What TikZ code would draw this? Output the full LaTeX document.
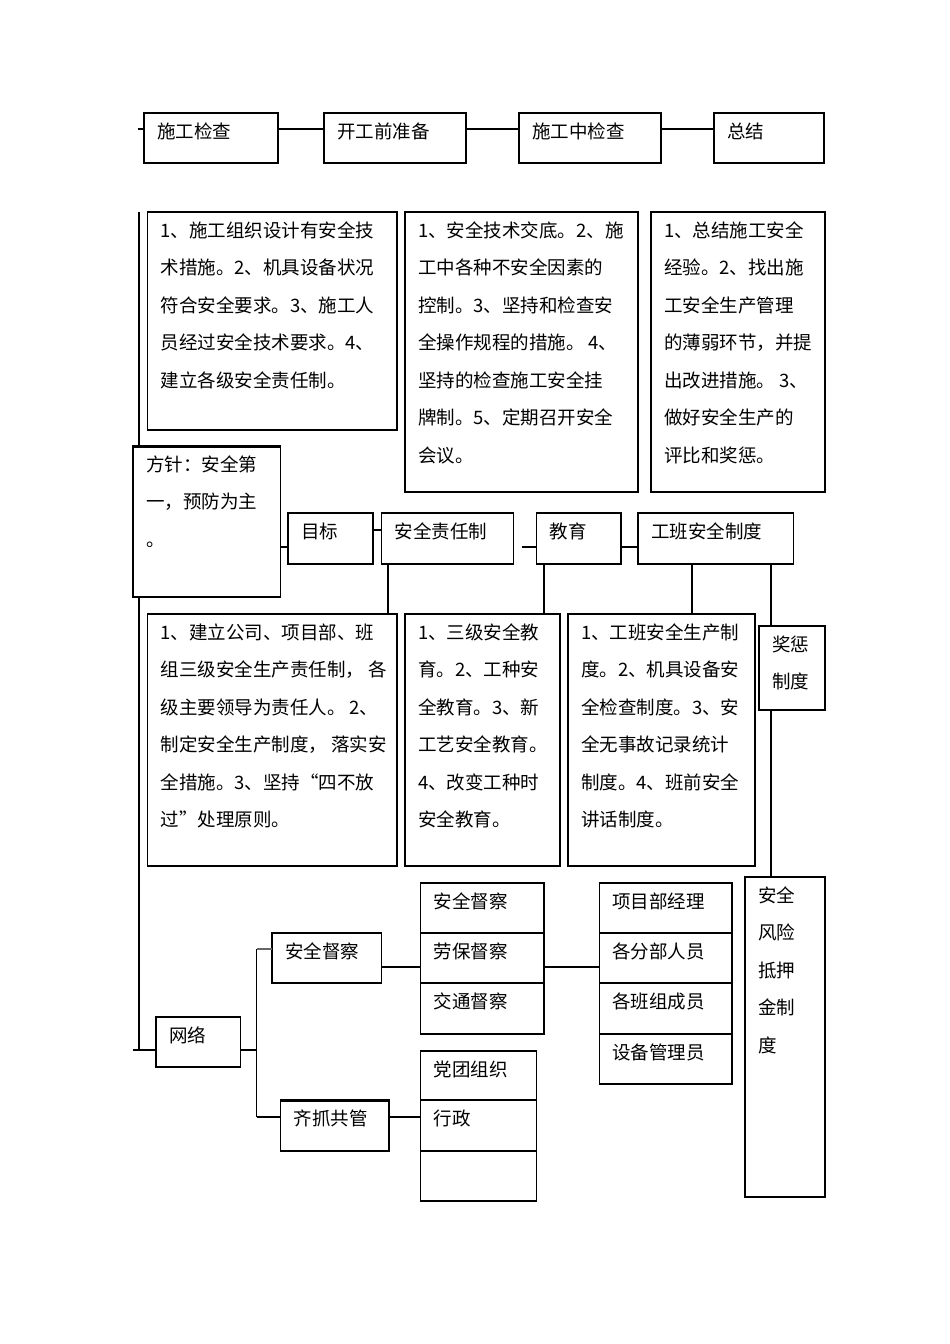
\documentclass[tikz,border=0pt]{standalone}
\usepackage{fontspec}
\newfontfamily\cjk{Noto Sans CJK SC}
\tikzset{
  bx/.style={draw, line width=1.5pt, fill=white, inner sep=0pt, outer sep=0pt},
  tx/.style={anchor=north west, inner sep=0pt, outer sep=0pt, align=left, font=\cjk\fontsize{18.5}{37.5}\selectfont},
  ln/.style={line width=1.3pt},
  thk/.style={line width=3pt},
}
\newcommand\bx[6]{%
  \node[bx, minimum width={(#4-#2)*1pt}, minimum height={(#5-#3)*1pt}] (#1) at ({(#2+#4)/2},{(#3+#5)/2}) {};
  \node[tx] (#1t) at ({#2+13},{#3-1}) {\rule{0pt}{26pt}#6};
}
\begin{document}
\begin{tikzpicture}[x=1pt,y=-1pt]
\fill[white] (0,0) rectangle (950,1344);
\useasboundingbox (0,0) rectangle (950,1344);
% long left line (behind boxes)
\coordinate (L0) at (139,212);
\coordinate (L1) at (139,1050);
\draw[ln] (L0) -- (L1);
% top row
\bx{A}{144}{113}{278}{163}{施工检查}
\bx{B}{324}{113}{466}{163}{开工前准备}
\bx{C}{519}{113}{661}{163}{施工中检查}
\bx{D}{714}{113}{824}{163}{总结}
\coordinate (yt) at (0,129);
\coordinate (s0) at (137.5,129);
\draw[ln] (s0) -- (A.west |- yt);
\draw[ln] (A.east |- yt) -- (B.west |- yt);
\draw[ln] (B.east |- yt) -- (C.west |- yt);
\draw[ln] (C.east |- yt) -- (D.west |- yt);
% second row
\bx{E1}{147.5}{212}{397}{430}{1、施工组织设计有安全技\\术措施。2、机具设备状况\\符合安全要求。3、施工人\\员经过安全技术要求。4、\\建立各级安全责任制。}
\bx{E2}{405}{212}{638}{492}{1、安全技术交底。2、施\\工中各种不安全因素的\\控制。3、坚持和检查安\\全操作规程的措施。 4、\\坚持的检查施工安全挂\\牌制。5、定期召开安全\\会议。}
\bx{E3}{651}{212}{825}{492}{1、总结施工安全\\经验。2、找出施\\工安全生产管理\\的薄弱环节，并提\\出改进措施。 3、\\做好安全生产的\\评比和奖惩。}
% third row
\bx{F}{133}{446}{280.5}{597}{方针：安全第\\一，预防为主\\。}
\draw[thk] (F.north west) -- (F.north east);
\bx{G}{288}{513}{373}{564}{目标}
\bx{H}{381.5}{513}{513.6}{564}{安全责任制}
\bx{I}{536.5}{513}{621}{564}{教育}
\bx{J}{638}{513}{793.4}{564}{工班安全制度}
\coordinate (ya) at (0,547);
\coordinate (yb) at (0,530);
\coordinate (s1) at (522,547);
\draw[ln] (F.east |- ya) -- (G.west |- ya);
\draw[ln] (G.east |- yb) -- (H.west |- yb);
\draw[ln] (s1) -- (I.west |- ya);
\draw[ln] (I.east |- ya) -- (J.west |- ya);
% fourth row
\bx{K1}{147.5}{614}{397}{866}{1、建立公司、项目部、班\\组三级安全生产责任制， 各\\级主要领导为责任人。 2、\\制定安全生产制度， 落实安\\全措施。3、坚持“四不放\\过”处理原则。}
\bx{K2}{405}{614}{560}{866}{1、三级安全教\\育。2、工种安\\全教育。3、新\\工艺安全教育。\\4、改变工种时\\安全教育。}
\bx{K3}{568}{614}{755}{866}{1、工班安全生产制\\度。2、机具设备安\\全检查制度。3、安\\全无事故记录统计\\制度。4、班前安全\\讲话制度。}
\bx{M}{759}{626}{825}{710}{奖惩\\制度}
\coordinate (xh) at (388,0);
\coordinate (xi) at (544,0);
\coordinate (xj) at (692,0);
\coordinate (xv) at (771,0);
\draw[ln] (xh |- H.south) -- (xh |- K1.north);
\draw[ln] (xi |- I.south) -- (xi |- K2.north);
\draw[ln] (xj |- J.south) -- (xj |- K3.north);
% bottom part
\bx{N}{156}{1017}{240.6}{1067}{网络}
\bx{O}{272}{933}{381.5}{983}{安全督察}
\bx{P}{280.5}{1100}{389}{1151}{齐抓共管}
\draw[thk] (P.north west) -- (P.north east);
\bx{Q1}{420.5}{883}{544}{933}{安全督察}
\bx{Q2}{420.5}{933}{544}{983}{劳保督察}
\bx{Q3}{420.5}{983}{544}{1034}{交通督察}
\bx{R1}{599.4}{883}{732}{933}{项目部经理}
\bx{R2}{599.4}{933}{732}{983}{各分部人员}
\bx{R3}{599.4}{983}{732}{1034}{各班组成员}
\bx{R4}{599.4}{1034}{732}{1084}{设备管理员}
\bx{S}{745}{877}{825}{1197}{安全\\风险\\抵押\\金制\\度}
\bx{T1}{420.5}{1051}{536.5}{1100}{党团组织}
\bx{T2}{420.5}{1100}{536.5}{1151}{行政}
\bx{T3}{420.5}{1151}{536.5}{1201}{}
\draw[line width=2.5pt] (T1.south west) -- (T1.south east);
% vertical line on the right
\draw[ln] (xv |- J.south) -- (xv |- M.north);
\draw[ln] (xv |- M.south) -- (xv |- S.north);
% network connectors
\coordinate (s2) at (133,1050);
\coordinate (jx) at (256.7,1050);
\coordinate (yo) at (0,949);
\coordinate (yp) at (0,1117);
\coordinate (yq) at (0,967);
\draw[ln] (s2) -- (N.west |- s2);
\draw[ln] (N.east |- jx) -- (jx);
\draw[ln] (jx |- yo) -- (jx |- yp);
\draw[ln, black!60] (jx |- yo) -- (O.west |- yo);
\draw[ln] (jx |- yp) -- (P.west |- yp);
\draw[ln] (O.east |- yq) -- (Q2.west |- yq);
\draw[ln] (Q2.east |- yq) -- (R2.west |- yq);
\draw[ln] (P.east |- yp) -- (T2.west |- yp);
\end{tikzpicture}
\end{document}
